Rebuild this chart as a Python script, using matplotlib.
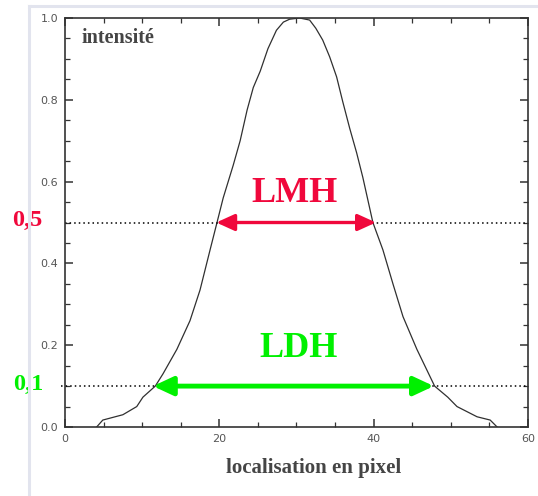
import matplotlib
matplotlib.use("Agg")
import matplotlib.pyplot as plt
from matplotlib.lines import Line2D

# profile (pixel position -> intensity)
pos_px = [4.1, 4.9, 7.5, 9.3, 10.1, 11.7, 12.7, 14.5, 16.2, 17.5, 18.8, 19.7,
          20.5, 21.8, 22.7, 23.6, 24.4, 25.3, 26.3, 27.4, 28.3, 29.1, 30.4, 31.7,
          32.5, 33.4, 34.3, 35.2, 36.0, 36.9, 37.8, 38.6, 39.9, 41.2, 42.5, 43.8,
          45.6, 47.9, 49.6, 50.8, 53.4, 55.1, 56.0]
intensity = [0.0, 0.017, 0.03, 0.05, 0.073, 0.1, 0.13, 0.19, 0.26, 0.335, 0.433, 0.5,
             0.56, 0.64, 0.70, 0.775, 0.83, 0.87, 0.925, 0.97, 0.99, 0.997, 1.0, 0.995,
             0.975, 0.946, 0.905, 0.856, 0.795, 0.73, 0.67, 0.61, 0.5, 0.433, 0.35, 0.27,
             0.19, 0.1, 0.073, 0.05, 0.025, 0.017, 0.0]

half_level = 0.5
half_span = (19.6, 40.3)
tenth_level = 0.1
tenth_span = (11.4, 47.8)

x_ticks = [0, 20, 40, 60]
y_ticks = [0.0, 0.2, 0.4, 0.6, 0.8, 1.0]

RED = "#f0083c"
GREEN = "#00f000"
GRAY_TXT = "#454545"

fig = plt.figure(figsize=(5.38, 4.96), dpi=100)
ax = fig.add_axes([0.1208, 0.1391, 0.8606, 0.8246])

# light frame around the whole picture
fig.add_artist(Line2D([29 / 538, 29 / 538], [0, 1 - 6 / 496], transform=fig.transFigure,
                      color="#e2e4ee", lw=2.2))
fig.add_artist(Line2D([29 / 538, 1], [1 - 6 / 496, 1 - 6 / 496], transform=fig.transFigure,
                      color="#e2e4ee", lw=2.2))

ax.plot(pos_px, intensity, color="#303030", lw=0.9, zorder=2,
        solid_joinstyle="round")

# dotted reference levels
ax.plot([0, 60], [half_level, half_level], color="black", lw=1.1, ls=(0, (1, 2)), zorder=2)
ax.plot([-0.5, 60], [tenth_level, tenth_level], color="black", lw=1.1, ls=(0, (1, 2)),
        zorder=2, clip_on=False)

# width arrows
ax.annotate("", xy=(half_span[1], half_level), xytext=(half_span[0], half_level),
            arrowprops=dict(arrowstyle="<|-|>,head_length=0.55,head_width=0.25",
                            color=RED, lw=2.4, mutation_scale=20,
                            shrinkA=0, shrinkB=0), zorder=4)
ax.annotate("", xy=(tenth_span[1], tenth_level), xytext=(tenth_span[0], tenth_level),
            arrowprops=dict(arrowstyle="<|-|>,head_length=0.6,head_width=0.28",
                            color=GREEN, lw=3.5, mutation_scale=20,
                            shrinkA=0, shrinkB=0), zorder=4)

ax.text(29.8, 0.572, "LMH", color=RED, fontsize=26, fontweight="bold",
        family="Liberation Serif", ha="center", va="center", zorder=3,
        bbox=dict(boxstyle="square,pad=0.35", facecolor="white", edgecolor="none"))
ax.text(30.3, 0.193, "LDH", color=GREEN, fontsize=26, fontweight="bold",
        family="Liberation Serif", ha="center", va="center", zorder=3,
        bbox=dict(boxstyle="square,pad=0.2", facecolor="white", edgecolor="none"))

ax.text(-4.9, half_level + 0.005, "0,5", color=RED, fontsize=17.5, fontweight="bold",
        family="Liberation Serif", ha="center", va="center", clip_on=False)
ax.text(-4.8, tenth_level + 0.005, "0,1", color=GREEN, fontsize=17.5, fontweight="bold",
        family="Liberation Serif", ha="center", va="center", clip_on=False)

ax.text(2.2, 0.951, "intensité", color=GRAY_TXT, fontsize=14.5, fontweight="bold",
        family="Liberation Serif", ha="left", va="center")
fig.text(0.583, 0.056, "localisation en pixel", color=GRAY_TXT, fontsize=15,
         fontweight="bold", family="Liberation Serif", ha="center", va="center")

ax.set_xlim(0, 60)
ax.set_ylim(0, 1.0)
ax.set_xticks(x_ticks)
ax.set_xticklabels([str(t) for t in x_ticks])
ax.set_yticks(y_ticks)
ax.set_yticklabels([f"{t:.1f}" for t in y_ticks])
ax.set_xticks(range(0, 61, 5), minor=True)
ax.set_yticks([i * 0.05 for i in range(21)], minor=True)
ax.tick_params(which="both", direction="in", top=True, right=True,
               colors="#333333", labelcolor="#555555", labelsize=8)
ax.tick_params(which="major", length=6, width=1.1, pad=5)
ax.tick_params(which="minor", length=3.5, width=0.9)
for sp in ax.spines.values():
    sp.set_color("#333333")
    sp.set_linewidth(1.2)

fig.savefig("out.png", dpi=100)
